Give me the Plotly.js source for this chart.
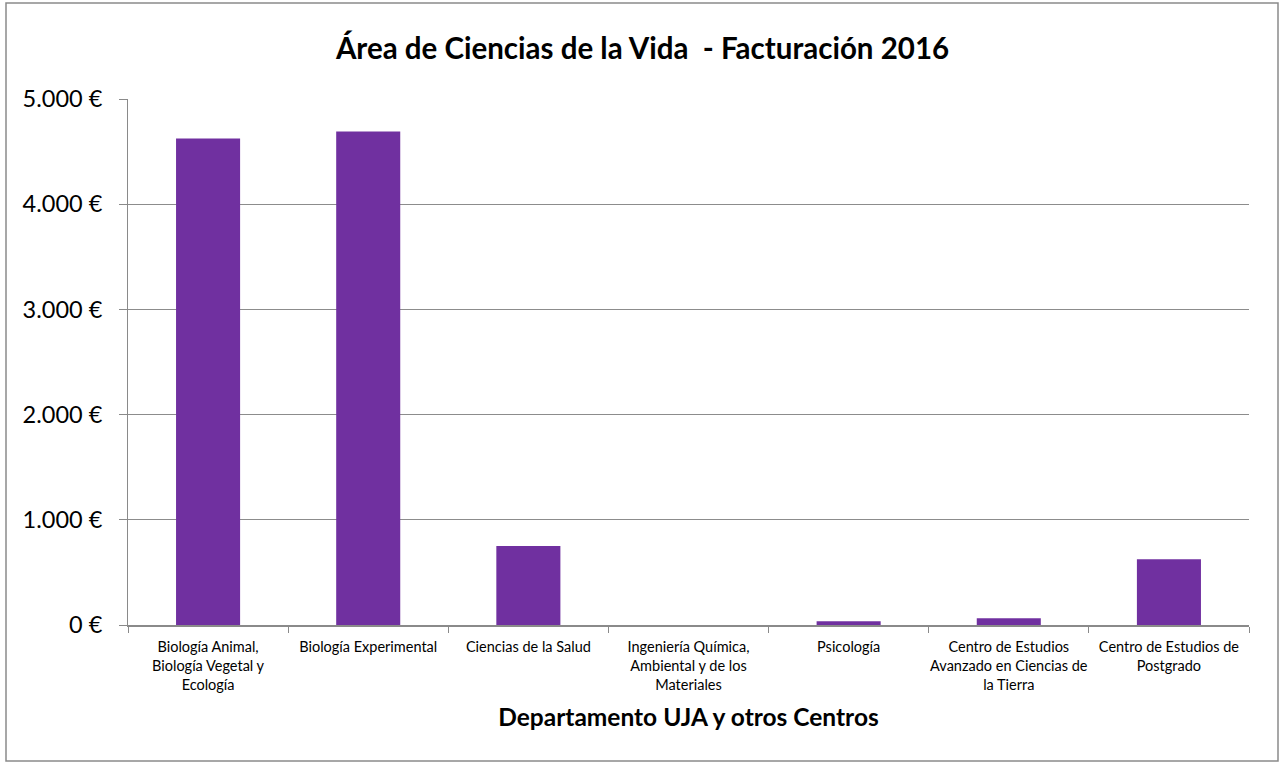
<!DOCTYPE html>
<html>
<head>
<meta charset="utf-8">
<script src="https://cdn.plot.ly/plotly-3.0.1.min.js"></script>
<style>
  html, body { margin: 0; padding: 0; background: #ffffff; }
  #chart { width: 1285px; height: 765px; }
</style>
</head>
<body>
<div id="chart"></div>
<script>
const categories = [
  "Biología Animal,<br>Biología Vegetal y<br>Ecología",
  "Biología Experimental",
  "Ciencias de la Salud",
  "Ingeniería Química,<br>Ambiental y de los<br>Materiales",
  "Psicología",
  "Centro de Estudios<br>Avanzado en Ciencias de<br>la Tierra",
  "Centro de Estudios de<br>Postgrado"
];
const facturacion = [4625, 4690, 750, 0, 36, 64, 625];
const yTickVals = [0, 1000, 2000, 3000, 4000, 5000];
const yTickText = ["0 €", "1.000 €", "2.000 €", "3.000 €", "4.000 €", "5.000 €"];

const trace = {
  type: "bar",
  x: categories,
  y: facturacion,
  marker: { color: "#7030A0" },
  hoverinfo: "x+y"
};

const layout = {
  width: 1285,
  height: 765,
  margin: { l: 128, r: 36, t: 99, b: 140 },
  paper_bgcolor: "#ffffff",
  plot_bgcolor: "#ffffff",
  showlegend: false,
  bargap: 0.6,
  font: { family: "Lato, 'Open Sans', sans-serif", color: "#000000" },
  title: {
    text: "<b>Área de Ciencias de la Vida  - Facturación 2016</b>",
    font: { family: "Lato, 'Open Sans', sans-serif", size: 29.5, color: "#000000" },
    x: 0.5, xanchor: "center",
    y: 1 - 49 / 765, yref: "container", yanchor: "middle"
  },
  xaxis: {
    type: "category",
    showline: true,
    linecolor: "#8a8a8a",
    linewidth: 2,
    ticks: "outside",
    tickson: "boundaries",
    ticklen: 6,
    tickcolor: "#8a8a8a",
    tickwidth: 1,
    showgrid: false,
    tickangle: 0,
    ticklabelstandoff: 8,
    tickfont: { family: "Lato, 'Open Sans', sans-serif", size: 14.5, color: "#000000" },
    title: {
      text: "<b>Departamento UJA y otros Centros</b>",
      font: { family: "Lato, 'Open Sans', sans-serif", size: 24.5, color: "#000000" },
      standoff: 17
    },
    automargin: false,
    fixedrange: true
  },
  yaxis: {
    range: [0, 5000],
    tickvals: yTickVals,
    ticktext: yTickText,
    showline: true,
    linecolor: "#8a8a8a",
    linewidth: 1,
    ticks: "outside",
    ticklen: 8,
    tickcolor: "#8a8a8a",
    showgrid: true,
    gridcolor: "#8c8c8c",
    gridwidth: 1,
    zeroline: false,
    ticklabelstandoff: 12,
    tickfont: { family: "Lato, 'Open Sans', sans-serif", size: 23.5, color: "#000000" },
    automargin: false,
    fixedrange: true
  },
  shapes: [{
    type: "rect",
    xref: "paper", yref: "paper",
    x0: (6 - 128) / 1121, x1: (1278 - 128) / 1121,
    y0: (625 - 761) / 526, y1: (625 - 3) / 526,
    line: { color: "#8a8a8a", width: 1.5 },
    fillcolor: "rgba(0,0,0,0)",
    layer: "below"
  }]
};

Plotly.newPlot("chart", [trace], layout, { displayModeBar: false, staticPlot: true });
</script>
</body>
</html>
